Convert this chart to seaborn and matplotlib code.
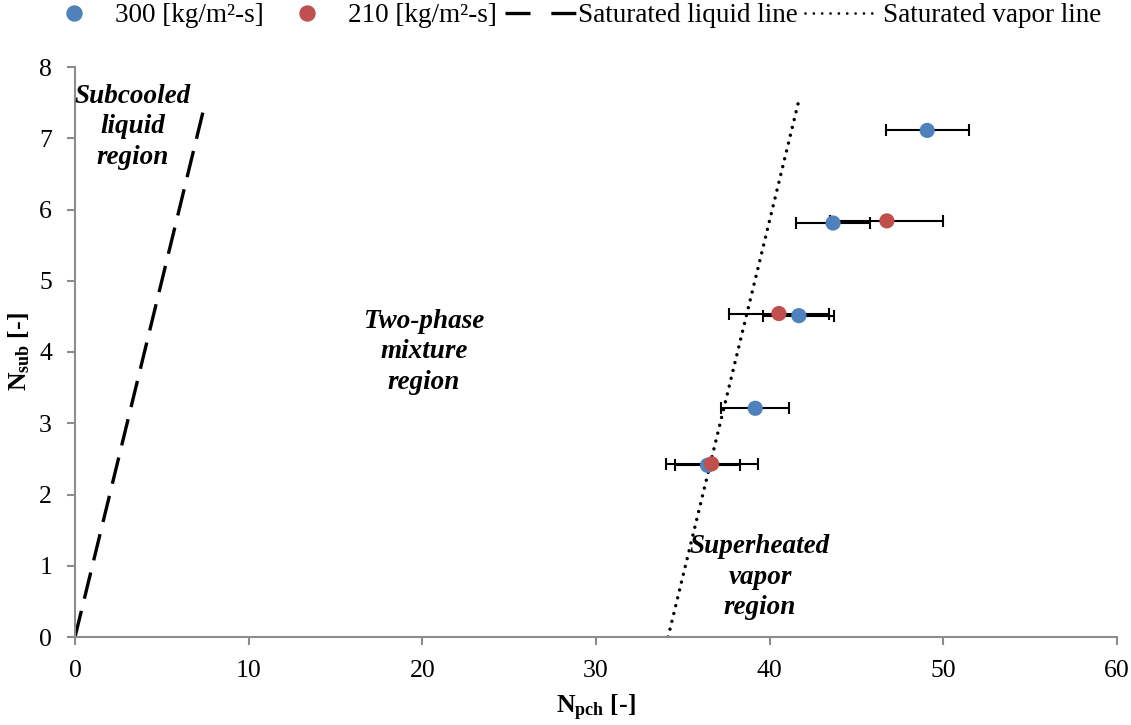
import numpy as np
import pandas as pd
import matplotlib
matplotlib.use("Agg")
import matplotlib.pyplot as plt
from matplotlib.lines import Line2D
import seaborn as sns

# Measured operating points (phase-change number vs subcooling number)
npch_300 = [49.07, 43.65, 41.68, 39.17, 36.42]
nsub_300 = [7.11, 5.81, 4.51, 3.21, 2.41]
err_300 = [2.40, 2.15, 2.05, 1.95, 1.85]

npch_210 = [46.75, 40.53, 36.66]
nsub_210 = [5.84, 4.54, 2.43]
err_210 = [3.25, 2.90, 2.64]

# Boundary lines of the stability map
liq_npch = [0.0, 7.5]
liq_nsub = [0.0, 7.5]
vap_npch = [34.15, 41.65]
vap_nsub = [0.0, 7.5]

series_labels = ["300 [kg/m²-s]", "210 [kg/m²-s]"]
line_labels = ["Saturated liquid line", "Saturated vapor line"]
blue = "#4F81BD"
red = "#C0504D"

sns.set_theme(style="white")
plt.rcParams["font.family"] = ["Liberation Serif", "DejaVu Serif"]
plt.rcParams["mathtext.fontset"] = "custom"
plt.rcParams["mathtext.rm"] = "Liberation Serif"
plt.rcParams["mathtext.bf"] = "Liberation Serif:bold"
plt.rcParams["mathtext.it"] = "Liberation Serif:italic"
plt.rcParams["lines.scale_dashes"] = False  # dash patterns below are in points
for key in ["text.color", "axes.labelcolor", "xtick.labelcolor", "ytick.labelcolor"]:
    plt.rcParams[key] = "black"

fig = plt.figure(figsize=(11.31, 7.25), dpi=100)
ax = fig.add_axes([75 / 1131, 1 - 637 / 725, (1117 - 75) / 1131, (637 - 67) / 725])

df = pd.concat([
    pd.DataFrame({"Npch": npch_300, "Nsub": nsub_300, "err": err_300, "flux": series_labels[0]}),
    pd.DataFrame({"Npch": npch_210, "Nsub": nsub_210, "err": err_210, "flux": series_labels[1]}),
], ignore_index=True)

LW = 2.4
liq_dash = (0, (19.4, 9.0))
vap_dash = (0, (0.01, 5.8))

# boundary lines
sns.lineplot(x=liq_npch, y=liq_nsub, ax=ax, color="black", linewidth=LW,
             linestyle=liq_dash, dash_capstyle="butt", zorder=2)
sns.lineplot(x=vap_npch, y=vap_nsub, ax=ax, color="black", linewidth=2.5,
             linestyle=vap_dash, dash_capstyle="round", zorder=2)

# horizontal uncertainty bars
for lab, sub in df.groupby("flux", sort=False):
    ax.errorbar(sub["Npch"], sub["Nsub"], xerr=sub["err"], fmt="none",
                ecolor="black", elinewidth=1.5, capsize=4, capthick=1.5, zorder=3)

sns.scatterplot(data=df, x="Npch", y="Nsub", hue="flux",
                palette={series_labels[0]: blue, series_labels[1]: red},
                s=120, edgecolor="none", ax=ax, zorder=4, legend=False)

ax.set_xlim(0, 60)
ax.set_ylim(0, 8)
ax.set_xticks(np.arange(0, 61, 10))
ax.set_yticks(np.arange(0, 9, 1))
for side in ["top", "right"]:
    ax.spines[side].set_visible(False)
for side in ["left", "bottom"]:
    ax.spines[side].set_color("#8C8C8C")
    ax.spines[side].set_linewidth(1.5)
ax.tick_params(axis="both", direction="out", length=5.5, width=1.5, color="#8C8C8C",
               labelsize=18.5, pad=11, left=True, bottom=True)

ax.set_xlabel(r"$\mathbf{N_{pch}}$ [-]", fontsize=18.5, fontweight="bold", labelpad=8)
ax.set_ylabel(r"$\mathbf{N_{sub}}$ [-]", fontsize=18.5, fontweight="bold", labelpad=5)

txt = dict(fontsize=19.5, fontweight="bold", fontstyle="italic", ha="center",
           va="center", linespacing=1.3)
ax.text(3.34, 7.16, "Subcooled\nliquid\nregion", **txt)
ax.text(20.1, 4.0, "Two-phase\nmixture\nregion", **txt)
ax.text(39.45, 0.84, "Superheated\nvapor\nregion", **txt)

# legend row: one entry per anchored legend so each sits at its own spot
FS = 19.5
em = FS * 100 / 72
ly = 1 - 16 / 725
entries = [
    (Line2D([], [], linestyle="none", marker="o", markersize=10.8, color=blue),
     series_labels[0], 66, 16, 115 - 82),
    (Line2D([], [], linestyle="none", marker="o", markersize=10.8, color=red),
     series_labels[1], 299, 16, 348 - 315),
    (Line2D([], [], color="black", linewidth=LW, linestyle=(0, (18.0, 15.0)),
            dash_capstyle="butt"),
     line_labels[0], 505, 72, 1),
    (Line2D([], [], color="black", linewidth=2.0, linestyle=(0, (0.01, 6.0)),
            dash_capstyle="round"),
     line_labels[1], 805, 67, 11),
]
for handle, label, x0, hlen, tpad in entries:
    fig.legend([handle], [label], loc="center left",
               bbox_to_anchor=(x0 / 1131, ly), frameon=False, fontsize=FS,
               borderpad=0, borderaxespad=0, handlelength=hlen / em,
               handletextpad=tpad / em)

fig.savefig("out.png", dpi=100)
